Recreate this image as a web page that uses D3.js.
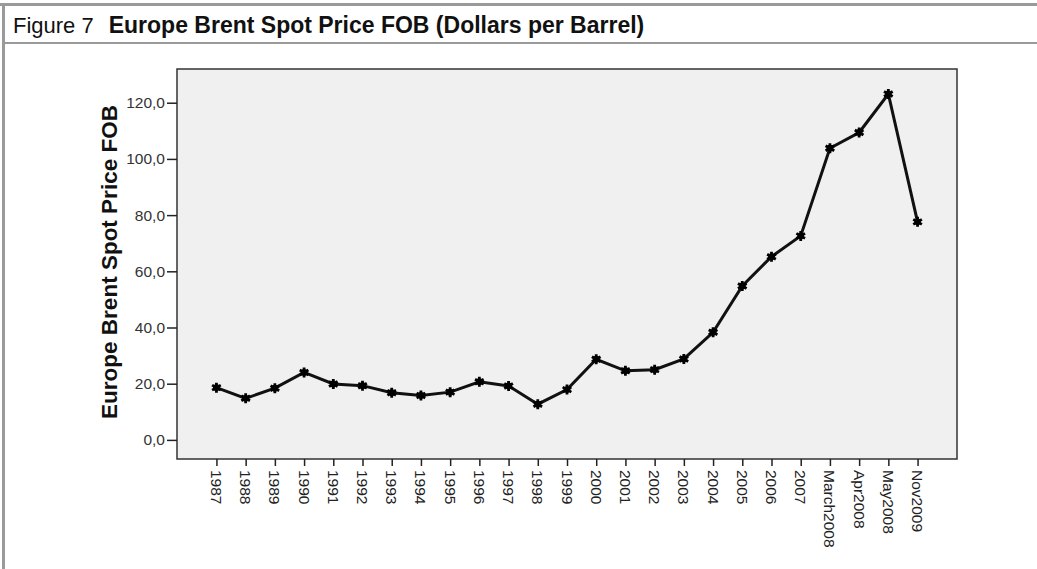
<!DOCTYPE html>
<html>
<head>
<meta charset="utf-8">
<script src="https://cdn.jsdelivr.net/npm/d3@7"></script>
<style>
  body { margin: 0; background: #fff; }
  svg { display: block; font-family: "Liberation Sans", Arial, sans-serif; }
</style>
</head>
<body>
<div id="chart"></div>
<script>
// categories along the x axis
const periods = ["1987","1988","1989","1990","1991","1992","1993","1994","1995","1996",
  "1997","1998","1999","2000","2001","2002","2003","2004","2005","2006","2007",
  "March2008","Apr2008","May2008","Nov2009"]
// Brent spot price, dollars per barrel
const prices = [18.6, 14.8, 18.4, 24.0, 19.9, 19.3, 16.8, 15.8, 17.0, 20.7,
  19.2, 12.7, 17.9, 28.7, 24.6, 25.0, 28.8, 38.3, 54.8, 65.2, 72.6,
  103.8, 109.4, 123.1, 77.6]
const yTicks = [0, 20, 40, 60, 80, 100, 120]

const width = 1037, height = 569
const plot = {left: 177, top: 69, right: 957, bottom: 459}

const svg = d3.select("#chart").append("svg")
  .attr("width", width)
  .attr("height", height)

// figure frame
svg.append("rect").attr("x", 0).attr("y", 3).attr("width", width).attr("height", 3).attr("fill", "#9a9a9a")
svg.append("rect").attr("x", 2).attr("y", 3).attr("width", 3).attr("height", height).attr("fill", "#9a9a9a")
svg.append("rect").attr("x", 5).attr("y", 42).attr("width", width).attr("height", 2).attr("fill", "#9a9a9a")

const title = svg.append("text")
  .attr("x", 13).attr("y", 33)
  .style("font-size", "22px")
  .attr("fill", "#111")
title.append("tspan").text("Figure 7")
title.append("tspan").attr("dx", 15).style("font-weight", "bold").style("font-size", "23px")
  .text("Europe Brent Spot Price FOB (Dollars per Barrel)")

const x = d3.scalePoint()
  .domain(periods)
  .range([plot.left, plot.right])
  .padding(1.35)

const y = d3.scaleLinear()
  .domain([-6.8, 132])
  .range([plot.bottom, plot.top])

// plot background
svg.append("rect")
  .attr("x", plot.left).attr("y", plot.top)
  .attr("width", plot.right - plot.left)
  .attr("height", plot.bottom - plot.top)
  .attr("fill", "#f0f0f0")
  .attr("stroke", "#333")
  .attr("stroke-width", 1.5)

const yAxis = d3.axisLeft(y)
  .tickValues(yTicks)
  .tickSize(10)
  .tickPadding(2)
  .tickFormat(d => d3.format(".1f")(d).replace(".", ","))

svg.append("g")
  .attr("transform", `translate(${plot.left},0)`)
  .call(yAxis)
  .call(g => g.select(".domain").remove())
  .call(g => g.selectAll(".tick line").attr("stroke", "#222").attr("stroke-width", 1.5))
  .call(g => g.selectAll(".tick text").attr("fill", "#333").style("font-size", "15.5px").style("font-family", "Liberation Sans, Arial, sans-serif"))

const xAxis = d3.axisBottom(x)
  .tickSize(7)
  .tickPadding(3)

svg.append("g")
  .attr("transform", `translate(0,${plot.bottom})`)
  .call(xAxis)
  .call(g => g.select(".domain").remove())
  .call(g => g.selectAll(".tick line").attr("stroke", "#222").attr("stroke-width", 1.5))
  .selectAll(".tick text")
  .attr("fill", "#222")
  .style("font-size", "15.5px")
  .style("font-family", "Liberation Sans, Arial, sans-serif")
  .style("text-anchor", "start")
  .attr("transform", "rotate(90)")
  .attr("x", 11)
  .attr("y", 0.5)
  .attr("dy", "0.35em")

svg.append("text")
  .attr("transform", `translate(117,262) rotate(-90)`)
  .attr("text-anchor", "middle")
  .style("font-size", "22.5px")
  .style("font-weight", "bold")
  .attr("fill", "#111")
  .text("Europe Brent Spot Price FOB")

const line = d3.line()
  .x((d, i) => x(periods[i]))
  .y(d => y(d))

svg.append("path")
  .datum(prices)
  .attr("fill", "none")
  .attr("stroke", "#111")
  .attr("stroke-width", 3)
  .attr("d", line)

svg.append("g")
  .selectAll("path")
  .data(prices)
  .enter().append("path")
  .attr("transform", (d, i) => `translate(${x(periods[i])},${y(d)})`)
  .attr("d", d3.symbol(d3.symbolAsterisk, 70))
  .attr("stroke", "#000")
  .attr("stroke-width", 2.8)
  .attr("fill", "none")

svg.append("g")
  .selectAll("circle")
  .data(prices)
  .enter().append("circle")
  .attr("cx", (d, i) => x(periods[i]))
  .attr("cy", d => y(d))
  .attr("r", 3.4)
  .attr("fill", "#000")
</script>
</body>
</html>
